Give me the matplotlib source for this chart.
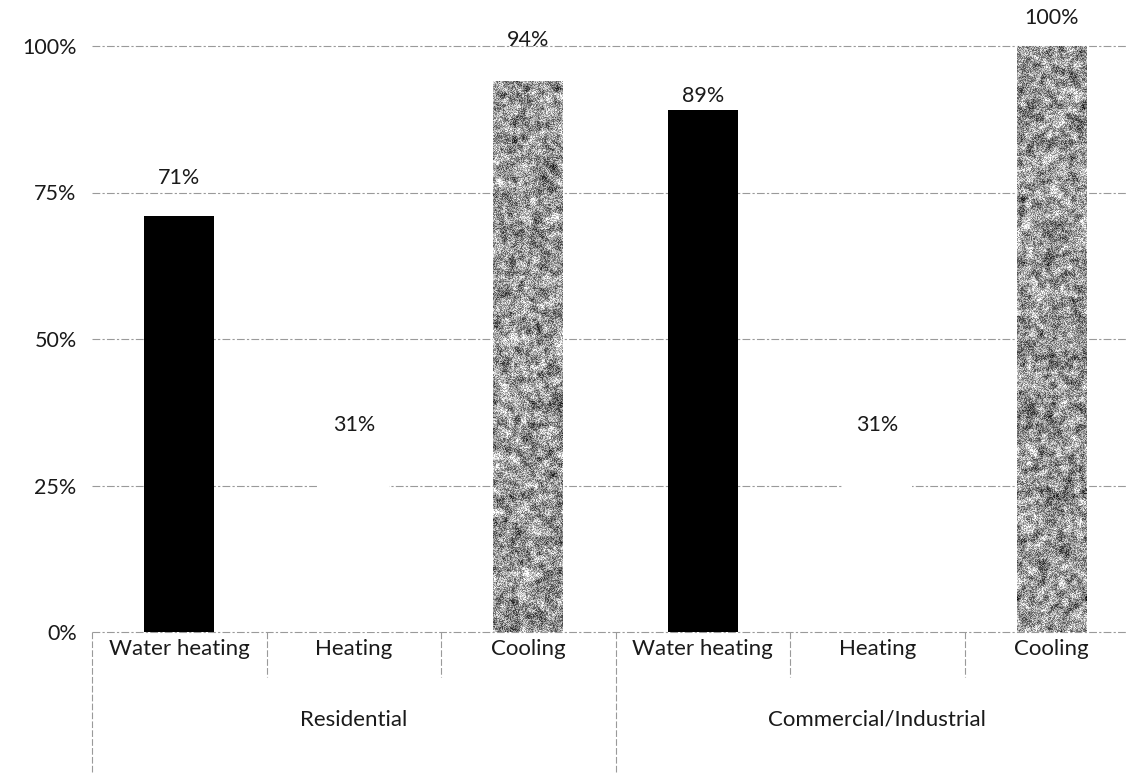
import numpy as np
import matplotlib
matplotlib.use("Agg")
import matplotlib.pyplot as plt
from matplotlib.patches import Rectangle

# --- data ---
GROUPS = ["Residential", "Commercial/Industrial"]
END_USES = ["Water heating", "Heating", "Cooling"]
SHARES = [71, 31, 94, 89, 31, 100]          # percent, in group order
Y_TICKS = [0, 25, 50, 75, 100]

# label offsets above each bar top, in pixels (hand-placed labels)
LABEL_OFFSETS = [38, 25, 41, 14, 25, 28]

FONT = ["Lato", "DejaVu Sans"]
W, H = 1127, 773
BAR_W = 0.4
GRID_C = "#9a9a9a"
TXT_C = "#1a1a1a"

plt.rcParams["font.family"] = FONT

fig = plt.figure(figsize=(W / 100, H / 100), dpi=100)
fig.patch.set_facecolor("white")
x0, x1, y0, y1 = 92, 1139, 632, 46
ax = fig.add_axes([x0 / W, (H - y0) / H, (x1 - x0) / W, (y0 - y1) / H])
ax.set_xlim(-0.5, len(SHARES) - 0.5)
ax.set_ylim(0, 100)
for s in ax.spines.values():
    s.set_visible(False)
ax.set_xticks([])
ax.set_yticks(Y_TICKS)
ax.set_yticklabels([f"{t}%" for t in Y_TICKS], fontsize=15.5, color=TXT_C)
ax.tick_params(axis="y", length=0, pad=11)

for t in Y_TICKS:
    ax.axhline(t, color=GRID_C, lw=0.8, ls=(0, (7, 2, 2, 2)), zorder=0, clip_on=False)

rng = np.random.default_rng(7)


def smooth(a, n=4):
    # cheap blur: average of shifted copies
    out = a.copy()
    for _ in range(n):
        out = (out + np.roll(out, 1, 0) + np.roll(out, -1, 0)
               + np.roll(out, 1, 1) + np.roll(out, -1, 1)) / 5
    return out


def grain_texture(h, w):
    # speckled grey fill with soft darker blotches
    fine = rng.random((h, w))
    coarse = smooth(rng.random((h, w)), 12)
    coarse = (coarse - coarse.mean()) / (coarse.std() + 1e-9)
    tex = 0.60 + 0.55 * (fine - 0.5) - 0.10 * coarse
    return np.clip(tex, 0, 1)


xs = np.arange(len(SHARES))
for i, (x, v) in enumerate(zip(xs, SHARES)):
    kind = END_USES[i % 3]
    if kind == "Water heating":
        ax.bar(x, v, width=BAR_W, color="black", zorder=2)
    elif kind == "Heating":
        ax.bar(x, v, width=BAR_W, color="white", zorder=1)
    else:
        rect = Rectangle((x - BAR_W / 2, 0), BAR_W, v, facecolor="none",
                         edgecolor="none", zorder=2)
        ax.add_patch(rect)
        im = ax.imshow(grain_texture(int(v * 6), 70), cmap="gray", vmin=0, vmax=1,
                       extent=(x - BAR_W / 2, x + BAR_W / 2, 0, v),
                       aspect="auto", interpolation="nearest", zorder=2)
        im.set_clip_path(rect)
    ax.annotate(f"{v}%", (x, v), xytext=(0, LABEL_OFFSETS[i]),
                textcoords="offset pixels", ha="center", va="center",
                fontsize=15.5, color=TXT_C, annotation_clip=False)

ax.set_xlim(-0.5, len(SHARES) - 0.5)
ax.set_ylim(0, 100)

# two-level category axis below the plot
trans = ax.get_xaxis_transform()
px = 1.0 / (y0 - y1)
inner_depth = -45 * px
outer_depth = -(H - y0) * px
for b in range(len(SHARES) + 1):
    xb = b - 0.5
    depth = outer_depth if b % 3 == 0 else inner_depth
    ax.plot([xb, xb], [0, depth], transform=trans, color=GRID_C, lw=0.8,
            ls=(0, (6, 2)), clip_on=False)

for i, x in enumerate(xs):
    ax.text(x, -17 * px, END_USES[i % 3], transform=trans, ha="center",
            va="center", fontsize=16, color=TXT_C)
for g, name in enumerate(GROUPS):
    ax.text(3 * g + 1, -88 * px, name, transform=trans, ha="center",
            va="center", fontsize=16, color=TXT_C)

fig.savefig("out.png", dpi=100, facecolor="white")
